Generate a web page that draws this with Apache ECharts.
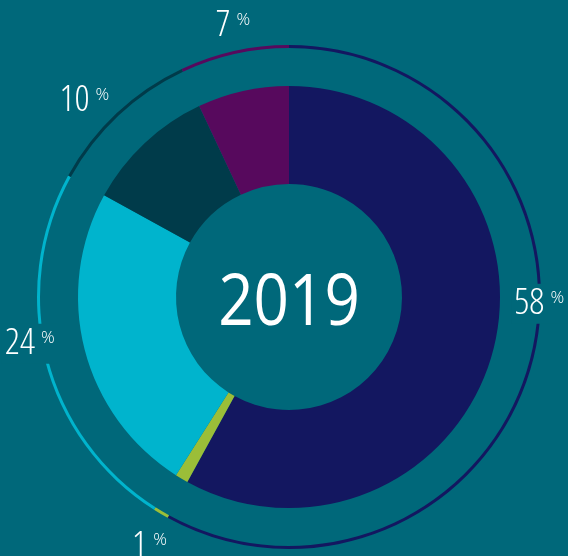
<!DOCTYPE html>
<html>
<head>
<meta charset="utf-8">
<script src="https://cdn.jsdelivr.net/npm/echarts@6/dist/echarts.min.js"></script>
<style>
html, body { margin: 0; padding: 0; background: #00687a; }
#chart { width: 568px; height: 556px; }
</style>
</head>
<body>
<div id="chart"></div>
<script>
// data
const year = "2019";
const segments = ["s1", "s2", "s3", "s4", "s5"];
const values = [58, 1, 24, 10, 7];

// styles
const bg = "#00687a";
const colors = ["#131760", "#9bbe38", "#00b4cd", "#003b4a", "#57095d"];
const labelOffsets = [[-21, -63], [3, 8], [12, -23], [-13, 8], [5, 2]];
const coverRing = [true, false, true, false, false];
const font = "'Open Sans', sans-serif";
const center = [289, 297];

const myChart = echarts.init(document.getElementById("chart"));

const sliceData = segments.map((name, i) => ({
	name: name,
	value: values[i],
	itemStyle: { color: colors[i] },
}));

myChart.setOption({
	backgroundColor: bg,
	animation: false,
	series: [
		{
			// main donut
			type: "pie",
			center: center,
			radius: [113, 211],
			startAngle: 90,
			silent: true,
			label: { show: false },
			labelLine: { show: false },
			data: sliceData,
		},
		{
			// thin outer ring
			type: "pie",
			center: center,
			radius: [249, 252],
			startAngle: 90,
			silent: true,
			label: { show: false },
			labelLine: { show: false },
			data: sliceData,
		},
		{
			// percentage labels
			type: "pie",
			center: center,
			radius: [240, 314],
			startAngle: 90,
			silent: true,
			z: 5,
			labelLine: { show: false },
			label: {
				show: true,
				position: "inside",
				formatter: (p) => "{n|" + p.value + "}{p|%}",
				rich: {
					n: { fontFamily: font, fontStyle: "condensed", fontWeight: 300, fontSize: 37, lineHeight: 36, color: "#fff" },
					p: { fontFamily: font, fontWeight: 300, fontSize: 17, lineHeight: 24, color: "#fff", verticalAlign: "top", padding: [4, 0, 0, 6] },
				},
			},
			data: segments.map((name, i) => ({
				name: name,
				value: values[i],
				itemStyle: { color: "rgba(0,0,0,0)" },
				label: {
					offset: labelOffsets[i],
					backgroundColor: coverRing[i] ? bg : "transparent",
					padding: [2, 3],
				},
			})),
		},
	],
	graphic: [
		{
			type: "text",
			x: 289,
			y: 304,
			scaleX: 0.86,
			silent: true,
			style: {
				text: year,
				fill: "#fff",
				font: "normal 72px " + font,
				align: "center",
				verticalAlign: "middle",
			},
		},
	],
});
</script>
</body>
</html>
